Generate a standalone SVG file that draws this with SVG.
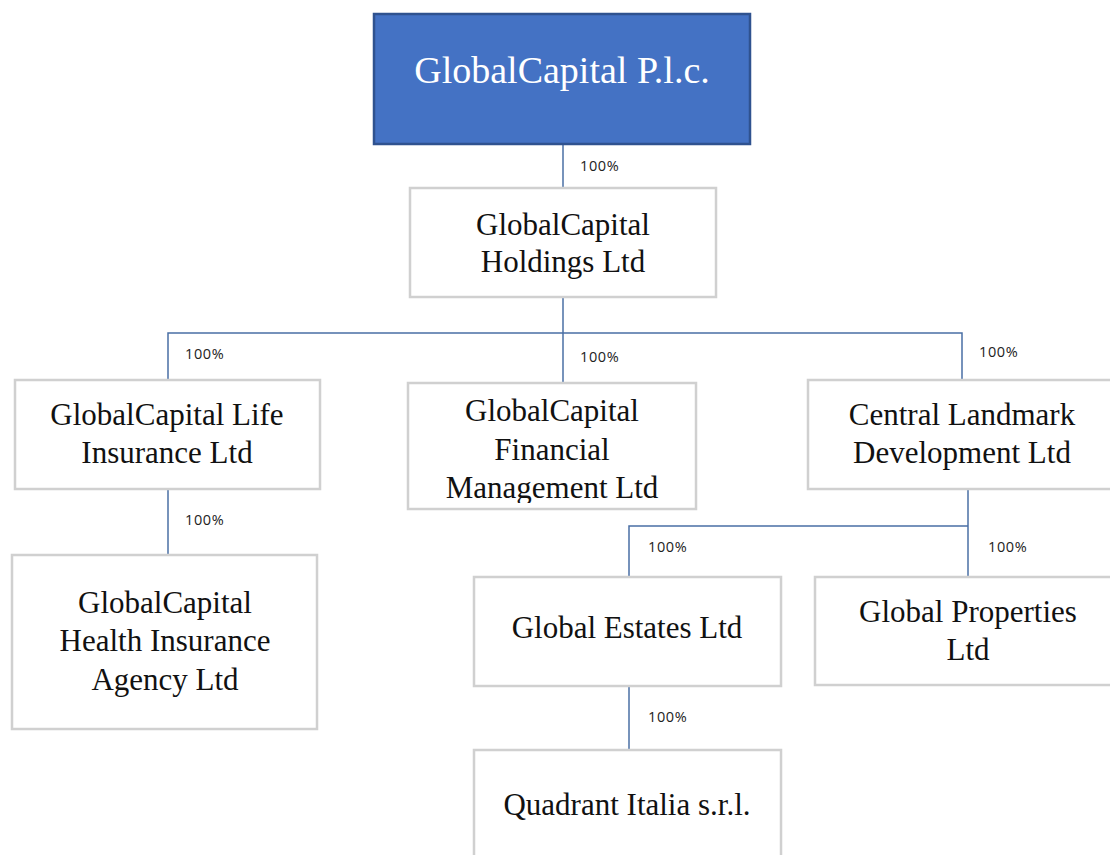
<svg xmlns="http://www.w3.org/2000/svg" width="1110" height="855" viewBox="0 0 1110 855">
<style>
.box{fill:#fff;stroke:#d0d0d0;stroke-width:2.5}
.top{fill:#4472c4;stroke:#2f528f;stroke-width:2.5}
.t{font-family:"Liberation Serif","Times New Roman",serif;font-size:31px;fill:#111;text-anchor:middle}
.tt{font-family:"Liberation Serif","Times New Roman",serif;font-size:38px;fill:#fff;text-anchor:middle}
.lbl{font-family:"Open Sans","Liberation Sans",sans-serif;font-size:14.5px;letter-spacing:0.6px;fill:#222}
.c{fill:none;stroke:#4a6fa5;stroke-width:1.5}
</style>
<defs>
<clipPath id="finclip"><rect x="408" y="383" width="288" height="120"/></clipPath>
</defs>
<rect width="1110" height="855" fill="#fff"/>
<g id="connectors">
<path class="c" d="M563 144V188"/>
<path class="c" d="M563 297V383"/>
<path class="c" d="M168 380V333H962V380"/>
<path class="c" d="M168 489V555"/>
<path class="c" d="M968 489V577"/>
<path class="c" d="M629 577V526H968"/>
<path class="c" d="M629 686V750"/>
<text class="lbl" x="580" y="171">100%</text>
<text class="lbl" x="185" y="359">100%</text>
<text class="lbl" x="580" y="362">100%</text>
<text class="lbl" x="979" y="357">100%</text>
<text class="lbl" x="185" y="525">100%</text>
<text class="lbl" x="648" y="552">100%</text>
<text class="lbl" x="988" y="552">100%</text>
<text class="lbl" x="648" y="722">100%</text>
</g>
<g id="n-plc">
<rect class="top" x="374" y="14" width="376" height="130"/>
<text class="tt" x="562" y="83">GlobalCapital P.l.c.</text>
</g>
<g id="n-holdings">
<rect class="box" x="410" y="188" width="306" height="109"/>
<text class="t" x="563" y="235">GlobalCapital</text>
<text class="t" x="563" y="272">Holdings Ltd</text>
</g>
<g id="n-life">
<rect class="box" x="15" y="380" width="305" height="109"/>
<text class="t" x="167" y="425">GlobalCapital Life</text>
<text class="t" x="167" y="463">Insurance Ltd</text>
</g>
<g id="n-financial">
<rect class="box" x="408" y="383" width="288" height="126"/>
<g clip-path="url(#finclip)">
<text class="t" x="552" y="421">GlobalCapital</text>
<text class="t" x="552" y="460">Financial</text>
<text class="t" x="552" y="498">Management Ltd</text>
</g>
</g>
<g id="n-central">
<rect class="box" x="808" y="380" width="310" height="109"/>
<text class="t" x="962" y="425">Central Landmark</text>
<text class="t" x="962" y="463">Development Ltd</text>
</g>
<g id="n-health">
<rect class="box" x="12" y="555" width="305" height="174"/>
<text class="t" x="165" y="613">GlobalCapital</text>
<text class="t" x="165" y="651">Health Insurance</text>
<text class="t" x="165" y="690">Agency Ltd</text>
</g>
<g id="n-estates">
<rect class="box" x="474" y="577" width="307" height="109"/>
<text class="t" x="627" y="638">Global Estates Ltd</text>
</g>
<g id="n-properties">
<rect class="box" x="815" y="577" width="305" height="108"/>
<text class="t" x="968" y="622">Global Properties</text>
<text class="t" x="968" y="660">Ltd</text>
</g>
<g id="n-quadrant">
<rect class="box" x="474" y="750" width="307" height="120"/>
<text class="t" x="627" y="815">Quadrant Italia s.r.l.</text>
</g>
</svg>
